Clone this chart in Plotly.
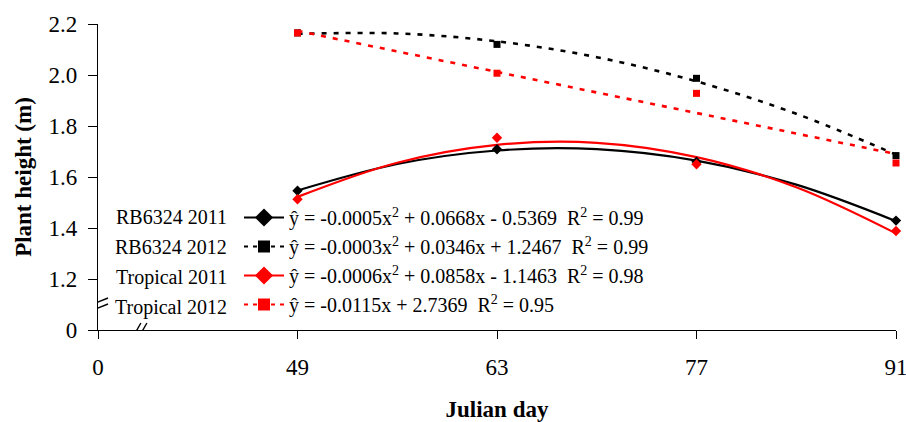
import plotly.graph_objects as go

# ---- data ----
days = [49, 63, 77, 91]
rb2011 = [1.546, 1.709, 1.660, 1.429]
rb2012 = [2.165, 2.120, 1.987, 1.684]
tr2011 = [1.513, 1.754, 1.650, 1.388]
tr2012 = [2.165, 2.007, 1.928, 1.655]

# trend lines
trend_days = [49, 56, 63, 70, 77, 84, 91]
rb2011_trend = [1.547, 1.651, 1.704, 1.709, 1.664, 1.570, 1.427]
rb2012_trend = [2.161, 2.163, 2.132, 2.070, 1.975, 1.848, 1.688]
tr2011_trend = [1.522, 1.656, 1.726, 1.734, 1.678, 1.560, 1.379]
tr2012_days = [49, 91]
tr2012_trend = [2.173, 1.690]

names = ["RB6324 2011", "RB6324 2012", "Tropical 2011", "Tropical 2012"]
equations = [
    "ŷ = -0.0005x<sup>2</sup> + 0.0668x - 0.5369\u00a0\u00a0R<sup>2</sup> = 0.99",
    "ŷ = -0.0003x<sup>2</sup> + 0.0346x + 1.2467\u00a0\u00a0R<sup>2</sup> = 0.99",
    "ŷ = -0.0006x<sup>2</sup> + 0.0858x - 1.1463\u00a0\u00a0R<sup>2</sup> = 0.98",
    "ŷ = -0.0115x + 2.7369\u00a0\u00a0R<sup>2</sup> = 0.95",
]

x_tick_vals = [35, 49, 63, 77, 91]
x_tick_text = ["0", "49", "63", "77", "91"]
y_tick_vals = [1.0, 1.2, 1.4, 1.6, 1.8, 2.0, 2.2]
y_tick_text = ["0", "1.2", "1.4", "1.6", "1.8", "2.0", "2.2"]

FONT = "Liberation Serif, Times New Roman, serif"
BLACK = "#000000"
RED = "#ff0000"
DASH = "5px,7px"

series = [
    dict(y=rb2011, tx=trend_days, ty=rb2011_trend, color=BLACK, sym="diamond", dash="solid", ms=8, lms=14),
    dict(y=rb2012, tx=trend_days, ty=rb2012_trend, color=BLACK, sym="square", dash=DASH, ms=7, lms=12),
    dict(y=tr2011, tx=trend_days, ty=tr2011_trend, color=RED, sym="diamond", dash="solid", ms=8, lms=14),
    dict(y=tr2012, tx=tr2012_days, ty=tr2012_trend, color=RED, sym="square", dash=DASH, ms=7, lms=12),
]

fig = go.Figure()

for s in series:
    fig.add_trace(go.Scatter(
        x=s["tx"], y=s["ty"], mode="lines",
        line=dict(color=s["color"], width=2.2 if s["dash"] == "solid" else 2.6,
                  dash=s["dash"], shape="spline"),
        showlegend=False, hoverinfo="skip"))

for s in series:
    fig.add_trace(go.Scatter(
        x=days, y=s["y"], mode="markers", cliponaxis=False,
        marker=dict(symbol=s["sym"], size=s["ms"], color=s["color"]),
        showlegend=False))

# legend entries (symbol samples + equations)
for i, s in enumerate(series):
    fig.add_trace(go.Scatter(
        x=[None], y=[None], mode="lines+markers", name=equations[i],
        legendgroup=f"g{i}",
        line=dict(color=s["color"], width=2, dash=s["dash"] if s["dash"] == "solid" else "4px,5px"),
        marker=dict(symbol=s["sym"], size=s["lms"], color=s["color"])))

# series names to the left of the legend samples
row_y = [217, 247, 277, 307]
plot_top, plot_h = 24, 306
plot_left, plot_w = 98, 798
for nm, ry in zip(names, row_y):
    fig.add_annotation(
        text=nm, xref="paper", yref="paper",
        x=(229 - plot_left) / plot_w, y=1 - (ry - plot_top) / plot_h,
        xanchor="right", yanchor="middle", showarrow=False,
        font=dict(family=FONT, size=20, color=BLACK))

# axis break marks
brk = dict(type="line", line=dict(color=BLACK, width=1.4))
for off in (-3, 3):
    fig.add_shape(**brk, xref="x", yref="y", xsizemode="pixel", ysizemode="pixel",
                  xanchor=35, yanchor=1.098, x0=-10, x1=10, y0=-4 + off, y1=4 + off)
    fig.add_shape(**brk, xref="x", yref="y", xsizemode="pixel", ysizemode="pixel",
                  xanchor=37.94, yanchor=1.0, x0=-4 + off, x1=4 + off, y0=-7, y1=7)

fig.update_layout(
    width=906, height=422,
    margin=dict(l=98, r=10, t=24, b=92),
    paper_bgcolor="white", plot_bgcolor="white",
    font=dict(family=FONT, color=BLACK),
    legend=dict(
        x=(239 - plot_left) / plot_w, y=1 - (198 - plot_top) / plot_h,
        xanchor="left", yanchor="top",
        bgcolor="rgba(0,0,0,0)", borderwidth=0,
        font=dict(family=FONT, size=20, color=BLACK),
        traceorder="grouped", tracegroupgap=0, itemwidth=40,
    ),
    xaxis=dict(
        range=[35, 91], tickmode="array", tickvals=x_tick_vals, ticktext=x_tick_text,
        showgrid=False, zeroline=False, showline=True, linecolor=BLACK, linewidth=1.3,
        ticks="outside", ticklen=8, tickwidth=1.3, tickcolor=BLACK,
        ticklabelstandoff=8, ticklabeloverflow="allow", automargin=False,
        tickfont=dict(family=FONT, size=23, color=BLACK),
        title=dict(text="<b>Julian day</b>", font=dict(family=FONT, size=23, color=BLACK), standoff=32),
    ),
    yaxis=dict(
        range=[1.0, 2.2], tickmode="array", tickvals=y_tick_vals, ticktext=y_tick_text,
        showgrid=False, zeroline=False, showline=True, linecolor=BLACK, linewidth=1.3,
        ticks="outside", ticklen=9, tickwidth=1.3, tickcolor=BLACK,
        ticklabelstandoff=6, automargin=False,
        tickfont=dict(family=FONT, size=23, color=BLACK),
        title=dict(text="<b>Plant height (m)</b>", font=dict(family=FONT, size=23, color=BLACK), standoff=10),
    ),
)

fig.write_html("out.html")
